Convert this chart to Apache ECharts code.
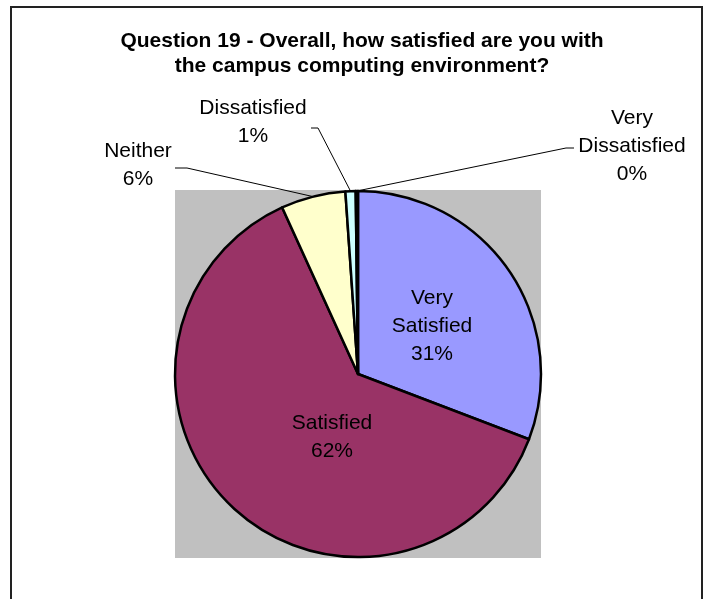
<!DOCTYPE html>
<html><head><meta charset="utf-8">
<script src="https://cdn.jsdelivr.net/npm/echarts@6/dist/echarts.min.js"></script>
<style>html,body{margin:0;padding:0;background:#fff}#c{width:703px;height:599px}</style>
</head><body><div id="c"></div>
<script>
// ---- data ----
const titleText = 'Question 19 - Overall, how satisfied are you with\nthe campus computing environment?';
const categories = ['Very Satisfied', 'Satisfied', 'Neither', 'Dissatisfied', 'Very Dissatisfied'];
const values = [30.8, 62.4, 5.7, 0.9, 0.2];
const colors = ['#9999FF', '#993366', '#FFFFCC', '#CCFFFF', '#660066'];
const insideLabel = [true, true, false, false, false];

// ---- layout (label anchors and leader bends) ----
const labelAnchors = [[432, 326], [332, 437], [138, 165], [253, 122], [632, 146]];
const leaderTails = {
  2: [[187, 168], [175, 168]],
  3: [[318, 128], [311, 128]],
  4: [[566, 148], [574, 148]]
};

const FONT = 'Arial, "Liberation Sans", sans-serif';
const chart = echarts.init(document.getElementById('c'));

const data = categories.map((name, i) => ({
  name: name,
  value: values[i],
  itemStyle: { color: colors[i] },
  label: { position: insideLabel[i] ? 'inside' : 'outside' },
  labelLine: { show: !insideLabel[i] }
}));

chart.setOption({
  animation: false,
  backgroundColor: '#fff',
  title: {
    text: titleText,
    left: 357,
    top: 24,
    textAlign: 'center',
    textStyle: { fontFamily: FONT, fontSize: 21, fontWeight: 'bold', color: '#000', lineHeight: 25 }
  },
  graphic: [
    { type: 'rect', z: -10, silent: true, shape: { x: 11, y: 7, width: 691, height: 700 },
      style: { fill: 'none', stroke: '#222', lineWidth: 2 } },
    { type: 'rect', z: -10, silent: true, shape: { x: 175, y: 190, width: 366, height: 368 },
      style: { fill: '#C0C0C0' } }
  ],
  series: [{
    type: 'pie',
    center: [358, 374],
    radius: 183,
    startAngle: 90,
    clockwise: true,
    avoidLabelOverlap: false,
    percentPrecision: 0,
    itemStyle: { borderColor: '#000', borderWidth: 2.5 },
    emphasis: { disabled: true },
    label: {
      show: true,
      formatter: p => p.name.replace(' ', '\n') + '\n' + p.percent + '%',
      fontFamily: FONT,
      fontSize: 21,
      lineHeight: 28,
      color: '#000',
      align: 'center'
    },
    labelLine: { show: true, length: 10, length2: 10, lineStyle: { color: '#000', width: 1 } },
    labelLayout: function (params) {
      const i = params.dataIndex;
      const a = labelAnchors[i];
      const out = { x: a[0], y: a[1], align: 'center', verticalAlign: 'middle' };
      if (leaderTails[i] && params.labelLinePoints) {
        out.labelLinePoints = [params.labelLinePoints[0], leaderTails[i][0], leaderTails[i][1]];
      }
      return out;
    },
    data: data
  }]
});
</script>
</body></html>
